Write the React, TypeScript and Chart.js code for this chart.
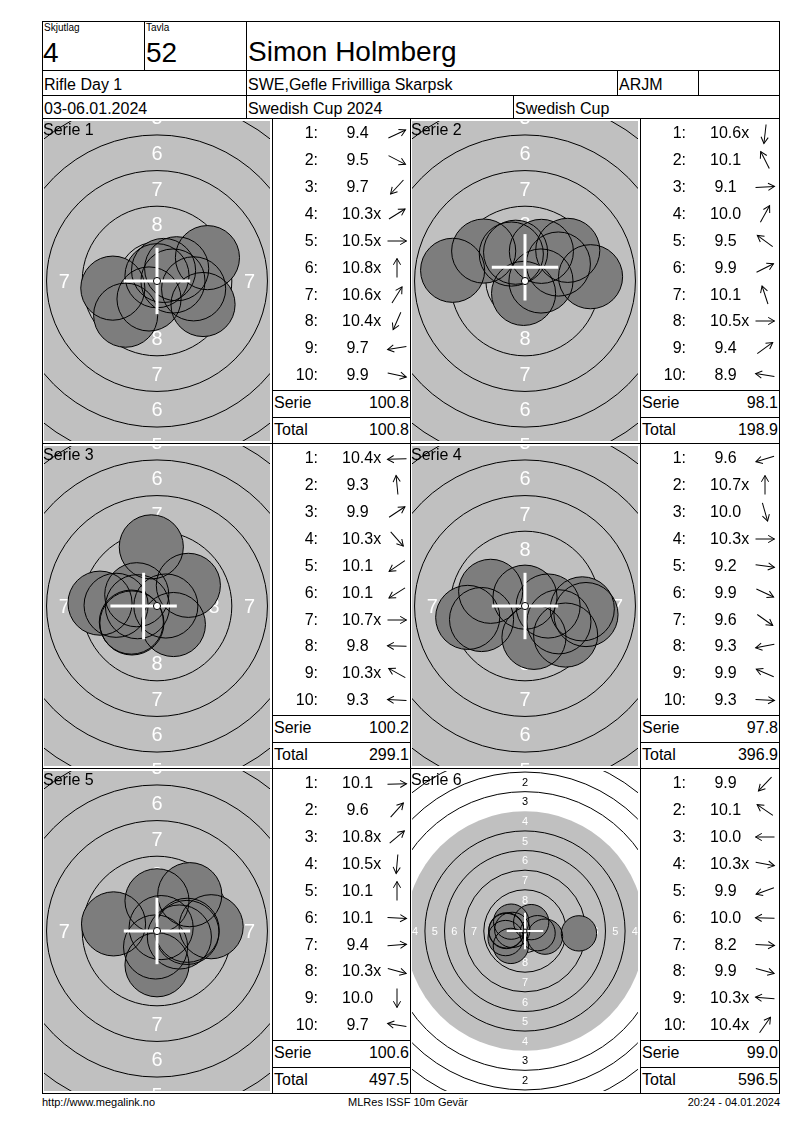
import React, { useEffect, useRef } from "react";
import { Chart, registerables } from "chart.js";

Chart.register(...registerables);

const FONT = '"Liberation Sans", Arial, Helvetica, sans-serif';

// ---------- header data ----------
const RELAY_LABEL = "Skjutlag";
const RELAY_VALUE = "4";
const LANE_LABEL = "Tavla";
const LANE_VALUE = "52";
const SHOOTER_NAME = "Simon Holmberg";
const EVENT_NAME = "Rifle Day 1";
const CLUB_NAME = "SWE,Gefle Frivilliga Skarpsk";
const CLASS_NAME = "ARJM";
const DATES = "03-06.01.2024";
const COMPETITION = "Swedish Cup 2024";
const CUP_NAME = "Swedish Cup";
const FOOTER_LEFT = "http://www.megalink.no";
const FOOTER_MID = "MLRes ISSF 10m Gevär";
const FOOTER_RIGHT = "20:24 - 04.01.2024";

// ---------- series data ----------
const SERIES_LABELS = ["Serie 1", "Serie 2", "Serie 3", "Serie 4", "Serie 5", "Serie 6"];
const SERIES_SUMS = ["100.8", "98.1", "100.2", "97.8", "100.6", "99.0"];
const RUNNING_TOTALS = ["100.8", "198.9", "299.1", "396.9", "497.5", "596.5"];

const S1_SCORES = ["9.4", "9.5", "9.7", "10.3x", "10.5x", "10.8x", "10.6x", "10.4x", "9.7", "9.9"];
const S2_SCORES = ["10.6x", "10.1", "9.1", "10.0", "9.5", "9.9", "10.1", "10.5x", "9.4", "8.9"];
const S3_SCORES = ["10.4x", "9.3", "9.9", "10.3x", "10.1", "10.1", "10.7x", "9.8", "10.3x", "9.3"];
const S4_SCORES = ["9.6", "10.7x", "10.0", "10.3x", "9.2", "9.9", "9.6", "9.3", "9.9", "9.3"];
const S5_SCORES = ["10.1", "9.6", "10.8x", "10.5x", "10.1", "10.1", "9.4", "10.3x", "10.0", "9.7"];
const S6_SCORES = ["9.9", "10.1", "10.0", "10.3x", "9.9", "10.0", "8.2", "9.9", "10.3x", "10.4x"];

// shot centres in mm from target centre (x right, y up)
const S1_X = [3.54, 3.23, -2.2, 1.38, 1.12, 0.0, 0.46, -0.56, -3.1, 2.57];
const S1_Y = [1.64, -1.65, -2.4, 0.86, 0.0, 0.37, 0.74, -1.26, -0.5, -0.55];
const S2_X = [-0.1, -0.96, 4.6, 1.15, -2.9, 2.34, -0.66, 1.12, 3.0, -5.08];
const S2_Y = [-0.87, 1.89, 0.3, 2.08, 2.1, 1.19, 2.02, 0.0, 2.15, 0.75];
const S3_X = [-1.37, -0.4, 2.2, 1.15, -1.76, -1.8, 0.62, -2.87, -1.42, -4.0];
const S3_Y = [-0.05, 4.15, 1.45, -1.3, -1.19, -1.13, 0.0, 0.05, 0.79, 0.2];
const S4_X = [-3.05, 0.0, 0.63, 1.62, 4.28, 2.38, 2.85, -4.02, -2.41, 4.02];
const S4_Y = [-0.95, 0.62, -2.2, 0.0, -0.6, -1.11, -2.04, -0.8, 1.03, -0.2];
const S5_X = [2.12, 2.3, 0.29, -0.1, 0.0, 2.1, 3.8, 1.57, 0.0, -3.05];
const S5_Y = [0.05, 2.55, 0.24, -1.12, 2.12, -0.1, 0.3, -0.42, -2.37, 0.5];
const S6_X = [-1.8, -1.76, -2.37, 1.6, -2.47, -2.37, 6.87, 2.55, -1.62, 0.79];
const S6_Y = [-1.9, 1.19, 0.0, -0.28, -0.9, 0.08, -0.3, -0.72, 0.14, 1.13];

// crosshair centre (mm) per series
const CROSS_X = [0, 0, -0.94, 0, 0, 0];
const CROSS_Y = [0, 0.96, 0, 0, 0, 0];

// ISSF 10m air rifle target geometry (mm)
const RING_NUMBERS = [1, 2, 3, 4, 5, 6, 7, 8, 9, 10];
const RING_RADII_MM = [22.75, 20.25, 17.75, 15.25, 12.75, 10.25, 7.75, 5.25, 2.75, 0.25];
const BLACK_FROM_RING = 4;
const PELLET_RADIUS_MM = 2.25;
const CROSS_HALF_MM = 2.33;

// ---------- styling / layout ----------
const FACE_GRAY = "#c0c0c0";
const SHOT_FILL = "#7d7d7d";
const ROW_TOPS = [118, 443, 768];
const BOTTOM_Y = 1093;
const LEFT_X = 42;
const RIGHT_X = 779;
const COLS = [
  { target: 44, list: 272, listRight: 410 },
  { target: 412, list: 640, listRight: 779 },
];
const TARGET_W = 226;
const TARGET_H = 320;
const ZOOM_PX_PER_MM = [14.25, 14.25, 14.25, 14.25, 14.25, 7.85];

const ALL_SCORES = [S1_SCORES, S2_SCORES, S3_SCORES, S4_SCORES, S5_SCORES, S6_SCORES];
const ALL_X = [S1_X, S2_X, S3_X, S4_X, S5_X, S6_X];
const ALL_Y = [S1_Y, S2_Y, S3_Y, S4_Y, S5_Y, S6_Y];

function HLine({ x1, x2, y }: any) {
  return <div style={{ position: "absolute", left: x1, top: y, width: x2 - x1 + 1, height: 1, background: "#000" }} />;
}
function VLine({ x, y1, y2 }: any) {
  return <div style={{ position: "absolute", left: x, top: y1, width: 1, height: y2 - y1 + 1, background: "#000" }} />;
}

// text placed by baseline
function Txt({ x, baseline, size, children, align = "left", width, color = "#000" }: any) {
  const L = Math.round(size * 1.2);
  const top = baseline - L / 2 - 0.3465 * size;
  const style: any = {
    position: "absolute",
    top,
    fontFamily: FONT,
    fontSize: size,
    lineHeight: L + "px",
    height: L,
    whiteSpace: "pre",
    color,
  };
  if (align === "left") style.left = x;
  else if (align === "right") {
    style.left = x - (width || 200);
    style.width = width || 200;
    style.textAlign = "right";
  } else {
    style.left = x - (width || 300) / 2;
    style.width = width || 300;
    style.textAlign = "center";
  }
  return <div style={style}>{children}</div>;
}

function Arrow({ cx, cy, angle }: any) {
  return (
    <svg
      width={26}
      height={26}
      viewBox="-13 -13 26 26"
      style={{ position: "absolute", left: cx - 13, top: cy - 13, overflow: "visible" }}
    >
      <g transform={`rotate(${-angle})`} stroke="#000" strokeWidth={1} fill="none">
        <line x1={-9.5} y1={0} x2={9.5} y2={0} />
        <polyline points="3.2,-3.6 9.5,0 3.2,3.6" />
      </g>
    </svg>
  );
}

function Target({ xs, ys, crossX, crossY, pxPerMm, left, top }: any) {
  const ref = useRef<HTMLCanvasElement | null>(null);
  useEffect(() => {
    if (!ref.current) return;
    const xr = TARGET_W / 2 / pxPerMm;
    const yr = TARGET_H / 2 / pxPerMm;
    const toPx = (chart: any, v: number) =>
      Math.abs(chart.scales.x.getPixelForValue(v) - chart.scales.x.getPixelForValue(0));
    const labelSize = 1.4 * pxPerMm;

    const facePlugin = {
      id: "targetFace",
      beforeDatasetsDraw(chart: any) {
        const { ctx, chartArea: a } = chart;
        const cx = chart.scales.x.getPixelForValue(0);
        const cy = chart.scales.y.getPixelForValue(0);
        ctx.save();
        ctx.beginPath();
        ctx.rect(a.left, a.top, a.right - a.left, a.bottom - a.top);
        ctx.clip();
        ctx.fillStyle = "#ffffff";
        ctx.fillRect(a.left, a.top, a.right - a.left, a.bottom - a.top);
        ctx.fillStyle = FACE_GRAY;
        ctx.beginPath();
        ctx.arc(cx, cy, toPx(chart, RING_RADII_MM[BLACK_FROM_RING - 1]), 0, Math.PI * 2);
        ctx.fill();
        ctx.strokeStyle = "#000";
        ctx.lineWidth = 1;
        RING_RADII_MM.forEach((r, i) => {
          const n = RING_NUMBERS[i];
          if (n === BLACK_FROM_RING || n === 10) return;
          ctx.beginPath();
          ctx.arc(cx, cy, toPx(chart, r), 0, Math.PI * 2);
          ctx.stroke();
        });
        ctx.font = `${labelSize}px ${FONT}`;
        ctx.textAlign = "center";
        ctx.textBaseline = "alphabetic";
        const dy = 0.358 * labelSize;
        for (let i = 0; i < 8; i++) {
          const n = RING_NUMBERS[i];
          const rp = toPx(chart, (RING_RADII_MM[i] + RING_RADII_MM[i + 1]) / 2);
          ctx.fillStyle = n >= BLACK_FROM_RING ? "#ffffff" : "#000000";
          const t = String(n);
          ctx.fillText(t, cx, cy - rp + dy);
          ctx.fillText(t, cx, cy + rp + dy);
          ctx.fillText(t, cx - rp, cy + dy);
          ctx.fillText(t, cx + rp, cy + dy);
        }
        ctx.restore();
      },
    };

    const shots = xs.map((x: number, i: number) => ({ x, y: ys[i] }));
    const shotsB = xs.map((x: number, i: number) => ({ x, y: ys[i] }));
    const shotRadiusPx = PELLET_RADIUS_MM * pxPerMm;
    const crossW = pxPerMm > 10 ? 3 : 2;

    const chart = new Chart(ref.current, {
      type: "scatter",
      data: {
        datasets: [
          {
            type: "scatter",
            data: shots,
            showLine: false,
            pointRadius: shotRadiusPx,
            pointHoverRadius: shotRadiusPx,
            pointBackgroundColor: SHOT_FILL,
            pointBorderColor: SHOT_FILL,
            pointBorderWidth: 0,
            order: 5,
          } as any,
          {
            type: "scatter",
            data: shotsB,
            showLine: false,
            pointRadius: shotRadiusPx,
            pointHoverRadius: shotRadiusPx,
            pointBackgroundColor: "rgba(0,0,0,0)",
            pointBorderColor: "#000000",
            pointBorderWidth: 1,
            order: 4,
          } as any,
          {
            type: "line",
            data: [
              { x: crossX - CROSS_HALF_MM, y: crossY },
              { x: crossX + CROSS_HALF_MM, y: crossY },
            ],
            borderColor: "#ffffff",
            borderWidth: crossW,
            borderCapStyle: "butt",
            pointRadius: 0,
            tension: 0,
            fill: false,
            order: 3,
          } as any,
          {
            type: "line",
            data: [
              { x: crossX, y: crossY - CROSS_HALF_MM },
              { x: crossX, y: crossY + CROSS_HALF_MM },
            ],
            borderColor: "#ffffff",
            borderWidth: crossW,
            borderCapStyle: "butt",
            pointRadius: 0,
            tension: 0,
            fill: false,
            order: 2,
          } as any,
          {
            type: "scatter",
            data: [{ x: 0, y: 0 }],
            showLine: false,
            pointRadius: RING_RADII_MM[9] * pxPerMm,
            pointHoverRadius: RING_RADII_MM[9] * pxPerMm,
            pointBackgroundColor: "#ffffff",
            pointBorderColor: "#000000",
            pointBorderWidth: 1,
            order: 1,
          } as any,
        ],
      },
      options: {
        animation: false,
        responsive: false,
        maintainAspectRatio: false,
        events: [],
        layout: { padding: 0, autoPadding: false },
        plugins: { legend: { display: false }, tooltip: { enabled: false } },
        scales: {
          x: { type: "linear", min: -xr, max: xr, display: false, bounds: "data", grace: 0 },
          y: { type: "linear", min: -yr, max: yr, display: false, bounds: "data", grace: 0 },
        },
      } as any,
      plugins: [facePlugin],
    });
    return () => chart.destroy();
  }, []);
  return (
    <canvas
      ref={ref}
      width={TARGET_W}
      height={TARGET_H}
      style={{ position: "absolute", left, top, width: TARGET_W, height: TARGET_H }}
    />
  );
}

function Panel({ idx }: any) {
  const row = Math.floor(idx / 2);
  const col = COLS[idx % 2];
  const rowTop = ROW_TOPS[row];
  const scores = ALL_SCORES[idx];
  const xs = ALL_X[idx];
  const ys = ALL_Y[idx];
  const items: any[] = [];
  scores.forEach((s, i) => {
    const base = rowTop + 20.5 + 26.85 * i;
    const angle = (Math.atan2(ys[i], xs[i]) * 180) / Math.PI;
    const padded = parseFloat(s) < 10 ? " " + s : s;
    items.push(
      <Txt key={"n" + i} x={col.list + 46} baseline={base} size={16} align="right" width={46}>
        {i + 1 + ":"}
      </Txt>
    );
    items.push(
      <Txt key={"v" + i} x={col.list + 70} baseline={base} size={16}>
        {padded}
      </Txt>
    );
    items.push(<Arrow key={"a" + i} cx={col.list + 125} cy={base - 5} angle={angle} />);
  });
  return (
    <>
      <Target
        xs={xs}
        ys={ys}
        crossX={CROSS_X[idx]}
        crossY={CROSS_Y[idx]}
        pxPerMm={ZOOM_PX_PER_MM[idx]}
        left={col.target}
        top={rowTop + 3}
      />
      <Txt x={col.target - 1} baseline={rowTop + 17} size={16}>
        {SERIES_LABELS[idx]}
      </Txt>
      {items}
      <HLine x1={col.list} x2={col.listRight} y={rowTop + 272} />
      <HLine x1={col.list} x2={col.listRight} y={rowTop + 299} />
      <Txt x={col.list + 2} baseline={rowTop + 290.5} size={16}>
        Serie
      </Txt>
      <Txt x={col.listRight - 1} baseline={rowTop + 290.5} size={16} align="right" width={100}>
        {SERIES_SUMS[idx]}
      </Txt>
      <Txt x={col.list + 2} baseline={rowTop + 317} size={16}>
        Total
      </Txt>
      <Txt x={col.listRight - 1} baseline={rowTop + 317} size={16} align="right" width={100}>
        {RUNNING_TOTALS[idx]}
      </Txt>
    </>
  );
}

export default function App() {
  return (
    <div
      style={{
        position: "absolute",
        left: 0,
        top: 0,
        width: 800,
        height: 1130,
        background: "#fff",
        fontFamily: FONT,
        overflow: "hidden",
      }}
    >
      <HLine x1={LEFT_X} x2={RIGHT_X} y={21} />
      <HLine x1={LEFT_X} x2={RIGHT_X} y={70} />
      <HLine x1={LEFT_X} x2={RIGHT_X} y={95} />
      <VLine x={144} y1={21} y2={70} />
      <VLine x={246} y1={21} y2={118} />
      <VLine x={617} y1={70} y2={95} />
      <VLine x={698} y1={70} y2={95} />
      <VLine x={513} y1={95} y2={118} />

      <Txt x={44} baseline={31} size={10}>{RELAY_LABEL}</Txt>
      <Txt x={146} baseline={31} size={10}>{LANE_LABEL}</Txt>
      <Txt x={43} baseline={63} size={28}>{RELAY_VALUE}</Txt>
      <Txt x={146} baseline={63} size={28}>{LANE_VALUE}</Txt>
      <Txt x={248} baseline={62} size={28}>{SHOOTER_NAME}</Txt>
      <Txt x={44} baseline={90} size={16}>{EVENT_NAME}</Txt>
      <Txt x={248} baseline={90} size={16}>{CLUB_NAME}</Txt>
      <Txt x={619} baseline={90} size={16}>{CLASS_NAME}</Txt>
      <Txt x={44} baseline={114} size={16}>{DATES}</Txt>
      <Txt x={248} baseline={114} size={16}>{COMPETITION}</Txt>
      <Txt x={515} baseline={114} size={16}>{CUP_NAME}</Txt>

      {SERIES_LABELS.map((_, i) => (
        <Panel key={i} idx={i} />
      ))}

      <HLine x1={LEFT_X} x2={RIGHT_X} y={ROW_TOPS[0]} />
      <HLine x1={LEFT_X} x2={RIGHT_X} y={ROW_TOPS[1]} />
      <HLine x1={LEFT_X} x2={RIGHT_X} y={ROW_TOPS[2]} />
      <HLine x1={LEFT_X} x2={RIGHT_X} y={BOTTOM_Y} />
      <VLine x={LEFT_X} y1={21} y2={BOTTOM_Y} />
      <VLine x={RIGHT_X} y1={21} y2={BOTTOM_Y} />
      <VLine x={COLS[0].list} y1={ROW_TOPS[0]} y2={BOTTOM_Y} />
      <VLine x={COLS[0].listRight} y1={ROW_TOPS[0]} y2={BOTTOM_Y} />
      <VLine x={COLS[1].list} y1={ROW_TOPS[0]} y2={BOTTOM_Y} />

      <Txt x={42} baseline={1106} size={11}>{FOOTER_LEFT}</Txt>
      <Txt x={408} baseline={1106} size={11} align="center" width={300}>{FOOTER_MID}</Txt>
      <Txt x={780} baseline={1106} size={11} align="right" width={300}>{FOOTER_RIGHT}</Txt>
    </div>
  );
}
